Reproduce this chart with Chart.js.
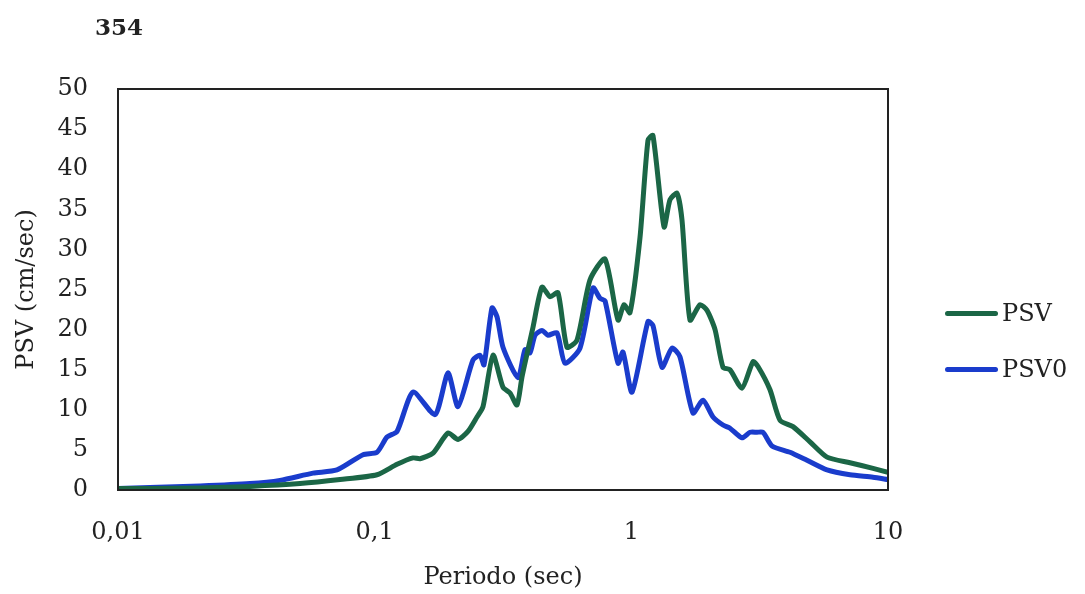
<!DOCTYPE html>
<html>
<head>
<meta charset="utf-8">
<script src="https://cdn.jsdelivr.net/npm/chart.js@4.4.1/dist/chart.umd.min.js"></script>
<style>
  body { margin: 0; background: #fff; }
  #wrap { position: relative; width: 1085px; height: 594px; font-family: "DejaVu Serif", serif; color: #222; }
  #pageNum { position: absolute; left: 95px; top: 13px; font-size: 23px; font-weight: bold; }
  .leg { position: absolute; left: 945px; height: 30px; display: flex; align-items: center; font-size: 24px; }
  .leg span.ln { display: inline-block; width: 53px; height: 5px; border-radius: 3px; margin-right: 4px; }
</style>
</head>
<body>
<div id="wrap">
  <canvas id="chartPsv" width="1085" height="594"></canvas>
  <div id="pageNum">354</div>
  <div class="leg" style="top:298px"><span class="ln" style="background:#1b6646"></span>PSV</div>
  <div class="leg" style="top:354px"><span class="ln" style="background:#1a3ccc"></span>PSV0</div>
</div>
<script>
// PSV (hijau)
const periodePsv = [0.01, 0.0133, 0.0209, 0.0327, 0.0512, 0.0733, 0.1021, 0.1222, 0.1411, 0.1502,
  0.1688, 0.1931, 0.2112, 0.2310, 0.2504, 0.2643, 0.2891, 0.3162, 0.3368, 0.3585,
  0.3750, 0.4139, 0.4486, 0.4822, 0.5180, 0.5614, 0.6143, 0.6902, 0.7896, 0.8873,
  0.9363, 0.9880, 1.081, 1.161, 1.214, 1.341, 1.415, 1.506, 1.575, 1.692,
  1.851, 1.972, 2.119, 2.276, 2.423, 2.699, 2.979, 3.115, 3.470, 3.795,
  4.265, 4.967, 5.786, 7.111, 8.744, 10];
const nilaiPsv = [0.2, 0.2, 0.25, 0.45, 0.8, 1.3, 1.9, 3.2, 4.0, 3.9,
  4.6, 7.1, 6.3, 7.3, 9.1, 10.4, 16.8, 12.8, 12.1, 10.6,
  14.1, 20.3, 25.3, 24.1, 24.6, 17.8, 18.7, 26.2, 28.8, 21.2,
  23.1, 22.1, 31.5, 43.6, 44.2, 32.8, 36.2, 37.0, 33.7, 21.2,
  23.1, 22.4, 20.0, 15.3, 15.0, 12.7, 16.0, 15.4, 12.5, 8.7,
  7.9, 6.0, 4.1, 3.4, 2.7, 2.2];

// PSV0 (biru)
const periodePsv0 = [0.01, 0.0133, 0.0209, 0.0327, 0.0428, 0.0575, 0.0713, 0.0901, 0.1021, 0.1117,
  0.1222, 0.1411, 0.1719, 0.1931, 0.2112, 0.2416, 0.2573, 0.2667, 0.2865, 0.2997,
  0.3162, 0.3618, 0.3853, 0.4029, 0.4214, 0.4486, 0.4736, 0.5133, 0.5514, 0.6310,
  0.7090, 0.7549, 0.7896, 0.8873, 0.9279, 1.006, 1.161, 1.214, 1.317, 1.440,
  1.547, 1.739, 1.902, 2.081, 2.276, 2.423, 2.699, 2.900, 3.088, 3.258,
  3.533, 4.152, 4.835, 5.786, 7.111, 8.744, 10];
const nilaiPsv0 = [0.2, 0.3, 0.5, 0.8, 1.2, 2.1, 2.5, 4.4, 4.7, 6.6,
  7.3, 12.2, 9.4, 14.6, 10.4, 16.2, 16.8, 15.6, 22.7, 21.6,
  17.8, 14.0, 17.5, 17.1, 19.3, 19.9, 19.3, 19.6, 15.8, 17.7,
  25.2, 23.9, 23.6, 15.8, 17.2, 12.2, 21.0, 20.5, 15.3, 17.7,
  16.6, 9.6, 11.2, 9.1, 8.1, 7.7, 6.5, 7.2, 7.2, 7.2,
  5.5, 4.7, 3.7, 2.5, 1.9, 1.6, 1.3];

const tickPeriode = [0.01, 0.1, 1, 10];
const labelPeriode = ["0,01", "0,1", "1", "10"];

const toXY = (xs, ys) => xs.map((x, i) => ({ x: x, y: ys[i] }));

// bingkai area plot
const bingkai = {
  id: "bingkai",
  afterDraw(chart) {
    const { ctx, chartArea: a } = chart;
    ctx.save();
    ctx.strokeStyle = "#222";
    ctx.lineWidth = 2;
    ctx.strokeRect(a.left, a.top, a.right - a.left, a.bottom - a.top);
    ctx.restore();
  }
};

const fontSerif = { family: "DejaVu Serif", size: 24 };

new Chart(document.getElementById("chartPsv"), {
  type: "line",
  data: {
    datasets: [
      { label: "PSV", data: toXY(periodePsv, nilaiPsv), borderColor: "#1b6646", borderWidth: 5, tension: 0.22, pointRadius: 0 },
      { label: "PSV0", data: toXY(periodePsv0, nilaiPsv0), borderColor: "#1a3ccc", borderWidth: 5, tension: 0.22, pointRadius: 0 }
    ]
  },
  options: {
    responsive: false,
    animation: false,
    layout: { padding: { left: 0, top: 89, right: 197, bottom: 0 } },
    plugins: { legend: { display: false }, tooltip: { enabled: false } },
    scales: {
      x: {
        type: "logarithmic",
        min: 0.01,
        max: 10,
        afterBuildTicks: s => { s.ticks = tickPeriode.map(v => ({ value: v })); },
        afterFit: s => { s.height = 104; },
        grid: { display: false, drawTicks: false },
        border: { display: false },
        ticks: {
          color: "#222", font: fontSerif, padding: 28, maxRotation: 0,
          callback: v => labelPeriode[tickPeriode.indexOf(v)] ?? ""
        },
        title: { display: true, text: "Periodo (sec)", color: "#222", font: fontSerif, padding: { top: 0, bottom: 2 } }
      },
      y: {
        min: 0,
        max: 50,
        afterFit: s => { s.width = 118; },
        grid: { display: false, drawTicks: false },
        border: { display: false },
        ticks: { stepSize: 5, color: "#222", font: fontSerif, padding: 30 },
        title: { display: true, text: "PSV (cm/sec)", color: "#222", font: fontSerif, padding: { top: 12, bottom: 0 } }
      }
    }
  },
  plugins: [bingkai]
});
</script>
</body>
</html>
